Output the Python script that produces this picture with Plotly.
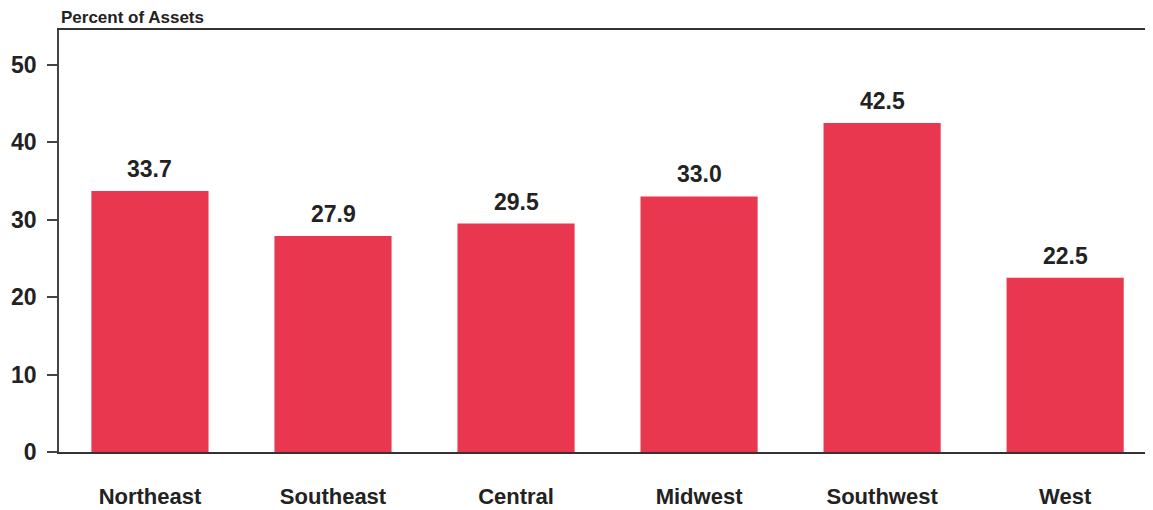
import plotly.graph_objects as go

regions = ["Northeast", "Southeast", "Central", "Midwest", "Southwest", "West"]
percent_of_assets = [33.7, 27.9, 29.5, 33.0, 42.5, 22.5]
y_ticks = [0, 10, 20, 30, 40, 50]

FONT = "Liberation Sans, Arial, sans-serif"
BAR = "#e8374e"

fig = go.Figure(go.Bar(
    x=regions, y=percent_of_assets,
    marker=dict(color=BAR, line=dict(width=0)),
    width=0.64,
    hoverinfo="x+y",
))

for r, v in zip(regions, percent_of_assets):
    fig.add_annotation(x=r, y=v, text=f"<b>{v:.1f}</b>", showarrow=False,
                       yanchor="bottom", yshift=7,
                       font=dict(family=FONT, size=23, color="#222"))

fig.add_annotation(xref="paper", yref="paper", x=0.0, y=1.0, xanchor="left",
                   yanchor="bottom", yshift=1,
                   text="<b>Percent of Assets</b>", showarrow=False,
                   font=dict(family=FONT, size=17, color="#222"))

# page body has an 8px margin, so the figure is offset by 8px
fig.update_layout(
    width=1145, height=502,
    margin=dict(l=51, r=0, t=22, b=58),
    paper_bgcolor="white", plot_bgcolor="white",
    showlegend=False,
    font=dict(family=FONT, color="#222"),
    xaxis=dict(
        range=[-0.497, 5.48],
        showline=True, linecolor="#333", linewidth=1.5, mirror=True,
        ticks="", showgrid=False, zeroline=False,
        tickfont=dict(family=FONT, size=22, color="#222"),
        ticklabelstandoff=24,
        tickvals=regions, ticktext=[f"<b>{r}</b>" for r in regions],
        automargin=False,
    ),
    yaxis=dict(
        range=[0, 54.5],
        showline=True, linecolor="#444", linewidth=1.5,
        ticks="outside", ticklen=10, tickcolor="#444", tickwidth=1.5,
        tickvals=y_ticks, ticktext=[f"<b>{t}</b>" for t in y_ticks],
        tickfont=dict(family=FONT, size=23, color="#222"),
        ticklabelstandoff=6,
        showgrid=False, zeroline=False,
        automargin=False,
    ),
)

fig.write_html("out.html")
